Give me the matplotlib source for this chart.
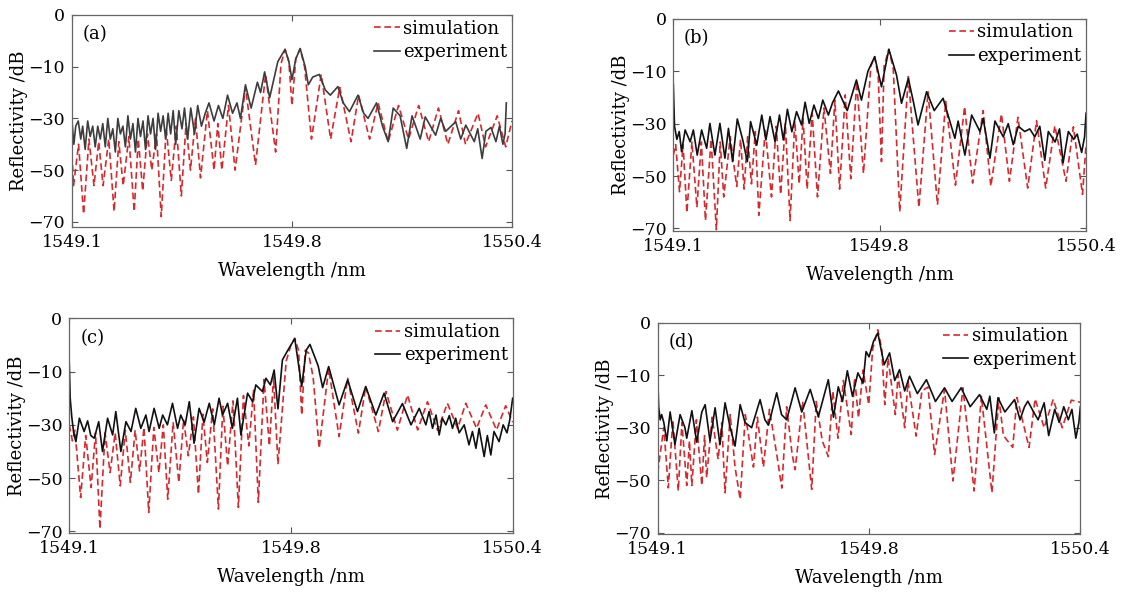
import numpy as np
import matplotlib

matplotlib.use("Agg")
import matplotlib.pyplot as plt  # noqa: E402

plt.rcParams["font.family"] = ["DejaVu Serif"]
plt.rcParams["font.size"] = 12

# x tick positions / labels as printed on the original figure
xticks = [1549.1, 1549.8, 1550.5]
xtick_labels = ["1549.1", "1549.8", "1550.4"]
# y tick positions / labels as printed (top label reads "0")
yticks = [10, -10, -30, -50, -70]
ytick_labels = ["0", "\u221210", "\u221230", "\u221250", "\u221270"]
panel_tags = ["(a)", "(b)", "(c)", "(d)"]

# ---- (a) ---- (wavelength nm, reflectivity dB)
sim_a = [(1549.100, -44), (1549.105, -56), (1549.121, -40), (1549.137, -67), (1549.154, -38),
         (1549.170, -56), (1549.185, -39), (1549.199, -56), (1549.217, -38), (1549.234, -66),
         (1549.249, -39), (1549.263, -56), (1549.281, -37), (1549.298, -66), (1549.311, -38),
         (1549.325, -58), (1549.340, -36), (1549.354, -50), (1549.369, -36), (1549.384, -68),
         (1549.400, -34), (1549.416, -54), (1549.432, -33), (1549.448, -60), (1549.463, -32),
         (1549.477, -50), (1549.493, -30), (1549.509, -53), (1549.531, -27), (1549.552, -50),
         (1549.564, -32), (1549.577, -50), (1549.598, -25), (1549.619, -50), (1549.652, -18),
         (1549.684, -48), (1549.716, -13), (1549.748, -43), (1549.765, -9), (1549.778, -3.3),
         (1549.790, -8), (1549.800, -25), (1549.812, -7), (1549.826, -3.0), (1549.840, -10),
         (1549.862, -38), (1549.893, -13), (1549.923, -38), (1549.952, -18), (1549.988, -39),
         (1550.012, -21), (1550.047, -38), (1550.074, -24), (1550.106, -39), (1550.139, -25),
         (1550.171, -38), (1550.203, -25), (1550.235, -39), (1550.266, -26), (1550.296, -40),
         (1550.330, -27), (1550.352, -40), (1550.392, -28), (1550.416, -41), (1550.453, -29),
         (1550.480, -41), (1550.500, -31)]
exp_a = [(1549.100, -31), (1549.106, -40), (1549.112, -33), (1549.120, -31), (1549.128, -38),
         (1549.134, -33), (1549.142, -42), (1549.150, -31), (1549.158, -37), (1549.166, -33),
         (1549.174, -41), (1549.182, -33), (1549.190, -38), (1549.198, -32), (1549.206, -41),
         (1549.214, -30), (1549.222, -38), (1549.230, -34), (1549.238, -43), (1549.246, -30),
         (1549.254, -36), (1549.262, -33), (1549.270, -41), (1549.278, -29), (1549.286, -38),
         (1549.294, -32), (1549.302, -43), (1549.310, -30), (1549.318, -37), (1549.326, -31),
         (1549.334, -42), (1549.342, -29), (1549.350, -36), (1549.358, -30), (1549.366, -42),
         (1549.374, -28), (1549.382, -35), (1549.390, -29), (1549.398, -38), (1549.406, -28),
         (1549.414, -36), (1549.422, -27), (1549.430, -40), (1549.440, -27), (1549.450, -34),
         (1549.458, -26), (1549.468, -38), (1549.478, -26), (1549.490, -36), (1549.500, -25),
         (1549.512, -33), (1549.524, -28), (1549.536, -24), (1549.552, -31), (1549.566, -25),
         (1549.580, -30), (1549.595, -21), (1549.611, -28), (1549.625, -24), (1549.636, -30),
         (1549.652, -17), (1549.670, -26), (1549.690, -16), (1549.700, -20), (1549.713, -12),
         (1549.729, -22), (1549.755, -8), (1549.778, -3.3), (1549.790, -8), (1549.800, -15),
         (1549.812, -7), (1549.826, -3.0), (1549.842, -10), (1549.852, -17), (1549.866, -14),
         (1549.887, -13), (1549.906, -19), (1549.922, -21), (1549.946, -17.7), (1549.963, -24),
         (1549.983, -27.4), (1550.010, -21), (1550.028, -28), (1550.042, -30), (1550.069, -24),
         (1550.088, -33), (1550.106, -39), (1550.122, -26), (1550.144, -29), (1550.165, -41.6),
         (1550.182, -29), (1550.208, -38), (1550.224, -29.4), (1550.257, -36.5), (1550.273, -30),
         (1550.289, -35), (1550.321, -31.3), (1550.337, -38), (1550.353, -32.6), (1550.380, -39),
         (1550.391, -34), (1550.405, -45.5), (1550.417, -35), (1550.433, -33.5), (1550.449, -39),
         (1550.460, -33), (1550.471, -40), (1550.478, -36), (1550.482, -24)]

# ---- (b) ----
sim_b = [(1549.100, -42), (1549.108, -38), (1549.121, -56), (1549.133, -38), (1549.146, -64),
         (1549.163, -37), (1549.180, -62), (1549.195, -37), (1549.209, -67), (1549.228, -36),
         (1549.246, -70.5), (1549.259, -37), (1549.271, -58), (1549.293, -35), (1549.315, -54),
         (1549.328, -36), (1549.340, -55), (1549.352, -35), (1549.365, -53), (1549.378, -33),
         (1549.390, -65), (1549.412, -32), (1549.433, -58), (1549.449, -31), (1549.464, -57),
         (1549.480, -30), (1549.496, -67), (1549.512, -29), (1549.527, -53), (1549.540, -28),
         (1549.554, -55), (1549.571, -26), (1549.589, -58), (1549.611, -24), (1549.633, -49),
         (1549.648, -21), (1549.664, -55), (1549.683, -19), (1549.702, -51), (1549.722, -14),
         (1549.745, -49), (1549.770, -8), (1549.783, -4.4), (1549.795, -12), (1549.806, -44.5),
         (1549.815, -8), (1549.831, -1.6), (1549.846, -9), (1549.868, -63.6), (1549.897, -12),
         (1549.933, -62), (1549.964, -17.8), (1549.996, -61), (1550.024, -21.5), (1550.057, -53.5),
         (1550.088, -23.5), (1550.115, -52.7), (1550.151, -25), (1550.177, -53.9), (1550.213, -26.3),
         (1550.240, -52), (1550.269, -27.6), (1550.302, -54.6), (1550.332, -28.9), (1550.363, -54.6),
         (1550.394, -30.8), (1550.432, -52), (1550.457, -31.2), (1550.488, -57), (1550.500, -38)]
exp_b = [(1549.100, -15), (1549.104, -31), (1549.112, -36), (1549.120, -33), (1549.128, -40.7),
         (1549.140, -32.4), (1549.157, -36.9), (1549.168, -32.4), (1549.181, -42), (1549.196, -32.4),
         (1549.213, -39.4), (1549.224, -29.9), (1549.241, -42), (1549.258, -29.9), (1549.275, -43.2),
         (1549.287, -31.8), (1549.301, -44.5), (1549.317, -28.2), (1549.335, -36), (1549.351, -44.5),
         (1549.362, -29.2), (1549.383, -38.2), (1549.400, -26.7), (1549.414, -36.2), (1549.428, -27.3),
         (1549.445, -36.9), (1549.460, -26.7), (1549.473, -36.2), (1549.487, -24.5), (1549.502, -33.1),
         (1549.518, -25.4), (1549.535, -30.5), (1549.547, -21.8), (1549.561, -29.9), (1549.577, -22.9),
         (1549.592, -28), (1549.607, -21), (1549.626, -26.7), (1549.640, -22), (1549.660, -17.5),
         (1549.690, -25), (1549.721, -13.3), (1549.738, -21), (1549.760, -10), (1549.783, -4.4),
         (1549.806, -15.9), (1549.831, -1.6), (1549.857, -11.4), (1549.874, -22.2), (1549.897, -12.7),
         (1549.915, -22), (1549.930, -30.5), (1549.959, -17.8), (1549.985, -25), (1550.015, -20.3),
         (1550.055, -35.6), (1550.066, -29), (1550.089, -42), (1550.112, -26.7), (1550.140, -33),
         (1550.151, -28), (1550.174, -43.2), (1550.191, -29), (1550.219, -35), (1550.236, -30),
         (1550.253, -38), (1550.270, -31), (1550.292, -33), (1550.309, -32), (1550.326, -35),
         (1550.343, -31), (1550.360, -44), (1550.372, -33), (1550.395, -37), (1550.410, -32),
         (1550.422, -45), (1550.440, -33), (1550.458, -36), (1550.470, -34), (1550.485, -41),
         (1550.495, -35), (1550.500, -26)]

# ---- (c) ----
sim_c = [(1549.100, -30), (1549.110, -36), (1549.118, -32), (1549.136, -57.3), (1549.152, -34),
         (1549.169, -53.5), (1549.183, -33), (1549.197, -69.1), (1549.213, -33), (1549.229, -47.9),
         (1549.245, -33), (1549.261, -52.9), (1549.277, -32), (1549.293, -51.6), (1549.308, -32),
         (1549.322, -47.3), (1549.336, -31), (1549.351, -62.9), (1549.367, -31), (1549.383, -47.9),
         (1549.397, -30), (1549.411, -57.9), (1549.428, -29), (1549.446, -51.6), (1549.461, -28),
         (1549.476, -41.6), (1549.492, -27), (1549.508, -56), (1549.522, -26), (1549.536, -44.1),
         (1549.553, -24), (1549.571, -61.6), (1549.585, -23), (1549.600, -45.4), (1549.617, -21),
         (1549.634, -61), (1549.650, -19), (1549.667, -37.9), (1549.682, -17), (1549.697, -59.1),
         (1549.715, -13), (1549.732, -37.9), (1549.745, -12), (1549.759, -44.8), (1549.785, -6),
         (1549.800, 0), (1549.812, 2.5), (1549.824, -2), (1549.834, -26.3), (1549.845, -2),
         (1549.855, -3), (1549.870, -12), (1549.889, -38.8), (1549.919, -8.8), (1549.952, -34.4),
         (1549.979, -12.5), (1550.013, -33.1), (1550.036, -15.6), (1550.076, -32.5), (1550.100, -17.5),
         (1550.136, -32), (1550.168, -18.8), (1550.200, -31.9), (1550.231, -21.3), (1550.263, -32),
         (1550.294, -21.9), (1550.326, -31.3), (1550.352, -21.9), (1550.386, -31.3), (1550.415, -22.5),
         (1550.449, -31.9), (1550.478, -22.8), (1550.500, -29)]
exp_c = [(1549.100, -6.6), (1549.103, -20), (1549.108, -27), (1549.114, -33), (1549.121, -36.3),
         (1549.132, -27.5), (1549.147, -32.5), (1549.158, -28.5), (1549.168, -34), (1549.179, -35),
         (1549.193, -28.8), (1549.205, -40), (1549.221, -27.5), (1549.237, -33.8), (1549.247, -25),
         (1549.263, -40), (1549.279, -28.8), (1549.295, -32.5), (1549.310, -23.8), (1549.326, -31.3),
         (1549.342, -26.3), (1549.352, -32.5), (1549.368, -23.8), (1549.384, -31.3), (1549.395, -26.3),
         (1549.410, -30), (1549.426, -21.9), (1549.442, -31.3), (1549.452, -26.3), (1549.466, -30),
         (1549.479, -21.3), (1549.494, -36.9), (1549.510, -23.8), (1549.526, -29), (1549.542, -21.9),
         (1549.558, -30), (1549.573, -20), (1549.584, -26.3), (1549.600, -21.9), (1549.615, -31.3),
         (1549.631, -20), (1549.642, -33.8), (1549.663, -18.1), (1549.679, -21.3), (1549.689, -15),
         (1549.710, -17.5), (1549.721, -12.5), (1549.735, -15), (1549.747, -9.4), (1549.759, -24),
         (1549.773, -5.6), (1549.790, -2), (1549.812, 2.4), (1549.834, -15.6), (1549.848, -2),
         (1549.860, 0.2), (1549.886, -7.9), (1549.900, -16), (1549.919, -8.1), (1549.952, -22.5),
         (1549.979, -13.1), (1550.010, -25), (1550.036, -15.6), (1550.068, -26.3), (1550.094, -18.1),
         (1550.121, -28.8), (1550.152, -22), (1550.179, -30), (1550.205, -23.8), (1550.226, -30),
         (1550.236, -25), (1550.247, -31.3), (1550.258, -26.3), (1550.268, -33.8), (1550.278, -27.5),
         (1550.289, -30), (1550.300, -26.5), (1550.310, -31.3), (1550.320, -27.5), (1550.331, -33),
         (1550.347, -30), (1550.362, -37.5), (1550.373, -32.5), (1550.384, -38.8), (1550.394, -31.3),
         (1550.410, -41.9), (1550.420, -34), (1550.431, -41.3), (1550.441, -32.5), (1550.457, -36.3),
         (1550.470, -30), (1550.482, -33), (1550.491, -28), (1550.500, -20)]

# ---- (d) ----
sim_d = [(1549.100, -47), (1549.108, -40), (1549.120, -30), (1549.135, -52.9), (1549.150, -27),
         (1549.168, -54), (1549.180, -28), (1549.196, -52), (1549.205, -35), (1549.213, -52),
         (1549.228, -27), (1549.246, -52), (1549.255, -33), (1549.262, -49), (1549.280, -26),
         (1549.300, -42), (1549.312, -28), (1549.323, -54.8), (1549.340, -25), (1549.356, -45),
         (1549.373, -57.3), (1549.390, -25), (1549.417, -45), (1549.430, -26), (1549.450, -45),
         (1549.470, -23), (1549.494, -40), (1549.511, -53), (1549.527, -22), (1549.545, -40),
         (1549.555, -46), (1549.580, -20), (1549.610, -53.5), (1549.625, -20), (1549.645, -35),
         (1549.665, -41), (1549.680, -16), (1549.697, -34), (1549.715, -12), (1549.741, -32.6),
         (1549.752, -11), (1549.765, -26.2), (1549.780, -8), (1549.799, -21.2), (1549.812, 0),
         (1549.829, 7.3), (1549.842, 0), (1549.852, -21.2), (1549.863, -3.4), (1549.887, -25),
         (1549.896, -9.8), (1549.918, -30), (1549.929, -12.3), (1549.956, -33.2), (1549.975, -16),
         (1549.995, -14.5), (1550.017, -40.2), (1550.050, -15.5), (1550.078, -50.3), (1550.111, -14.8),
         (1550.148, -54.1), (1550.172, -18), (1550.207, -54.7), (1550.230, -18.6), (1550.245, -33),
         (1550.276, -37.5), (1550.290, -18.5), (1550.330, -37.5), (1550.350, -19), (1550.380, -30),
         (1550.410, -19.2), (1550.440, -30), (1550.470, -19.5), (1550.500, -20.3)]
exp_d = [(1549.100, -10.4), (1549.103, -22), (1549.108, -27), (1549.113, -25), (1549.120, -28),
         (1549.130, -35), (1549.141, -24), (1549.157, -36.4), (1549.174, -25), (1549.190, -30),
         (1549.196, -34), (1549.213, -23.5), (1549.229, -35.5), (1549.246, -24), (1549.257, -21.2),
         (1549.273, -35), (1549.290, -22.4), (1549.306, -36.4), (1549.323, -20.5), (1549.340, -30),
         (1549.356, -37), (1549.373, -21.2), (1549.389, -28), (1549.411, -30), (1549.439, -19.3),
         (1549.455, -27), (1549.467, -29), (1549.494, -16.7), (1549.510, -25), (1549.527, -27),
         (1549.555, -14.8), (1549.577, -24), (1549.605, -15.4), (1549.632, -25.8), (1549.665, -11.7),
         (1549.682, -26), (1549.698, -14.4), (1549.712, -20), (1549.728, -8.3), (1549.745, -18),
         (1549.763, -9.1), (1549.780, -13), (1549.790, -1), (1549.800, -3), (1549.815, 3),
         (1549.829, 6.1), (1549.850, -6), (1549.868, -1.5), (1549.885, -12), (1549.901, -7.9),
         (1549.918, -16), (1549.934, -10.4), (1549.960, -17), (1549.990, -11.7), (1550.020, -20),
         (1550.050, -14.8), (1550.075, -20), (1550.105, -14.8), (1550.135, -22), (1550.166, -17.4),
         (1550.190, -23), (1550.200, -18), (1550.215, -32), (1550.227, -18.6), (1550.250, -24),
         (1550.282, -19.3), (1550.300, -27), (1550.315, -22), (1550.326, -19.9), (1550.345, -24),
         (1550.360, -27), (1550.380, -20.5), (1550.395, -33), (1550.415, -23), (1550.430, -28),
         (1550.445, -22), (1550.460, -27), (1550.472, -23), (1550.485, -34), (1550.495, -28),
         (1550.500, -22)]

sims = [sim_a, sim_b, sim_c, sim_d]
exps = [exp_a, exp_b, exp_c, exp_d]
exp_colors = ["#3d3d3d", "#111111", "#111111", "#111111"]

# axes rectangles in figure fractions (left, bottom, width, height) and y floors
rects = [(0.0633, 0.6185, 0.3870, 0.3563),
         (0.5922, 0.6118, 0.3630, 0.3563),
         (0.0609, 0.1042, 0.3900, 0.3608),
         (0.5785, 0.1025, 0.3717, 0.3551)]
ybottoms = [-72, -71, -70.6, -70.5]

RED = "#d42a2e"

fig = plt.figure(figsize=(11.37, 5.95), dpi=100)
for i in range(4):
    ax = fig.add_axes(rects[i])
    s = np.array(sims[i])
    e = np.array(exps[i])
    ax.plot(s[:, 0], s[:, 1], color=RED, lw=1.2, dashes=(4, 2.2), label="simulation")
    ax.plot(e[:, 0], e[:, 1], color=exp_colors[i], lw=1.2, label="experiment")
    ax.set_xlim(1549.1, 1550.5)
    ax.set_ylim(ybottoms[i], 10)
    ax.set_xticks(xticks)
    ax.set_xticklabels(xtick_labels)
    ax.set_yticks(yticks)
    ax.set_yticklabels(ytick_labels)
    ax.tick_params(direction="in", length=4, width=0.8, top=True, right=True,
                   labelsize=12.5, pad=5, color="#555555")
    for sp in ax.spines.values():
        sp.set_color("#666666")
        sp.set_linewidth(0.9)
    ax.set_xlabel("Wavelength /nm", fontsize=13, labelpad=8)
    ax.set_ylabel("Reflectivity /dB", fontsize=13, labelpad=0)
    ax.text(0.025, 0.91, panel_tags[i], transform=ax.transAxes, fontsize=13,
            ha="left", va="center")
    ax.legend(loc="upper right", frameon=False, fontsize=13, handlelength=1.4,
              handletextpad=0.2, borderaxespad=0.05, borderpad=0.2, labelspacing=0.3)

fig.savefig("out.png", dpi=100)
